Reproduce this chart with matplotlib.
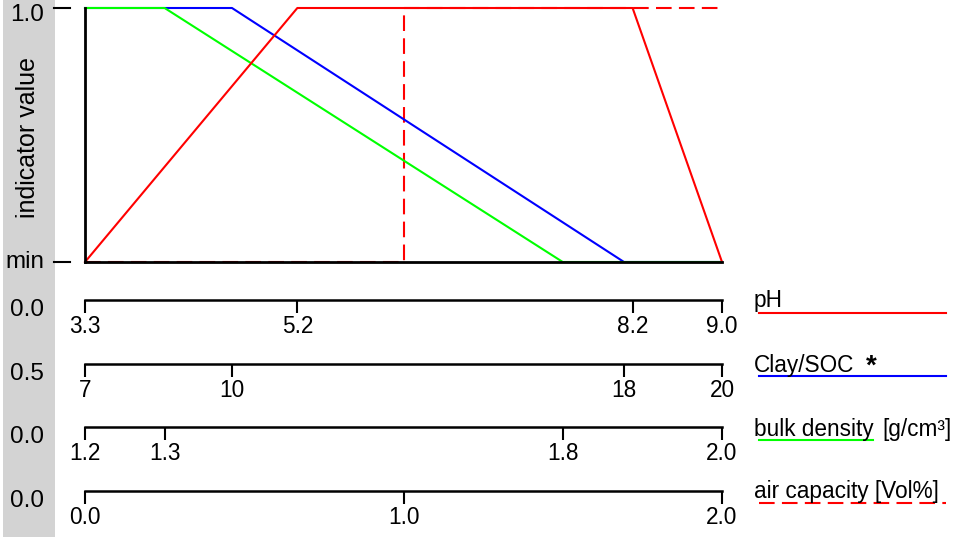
import matplotlib
matplotlib.use("Agg")
import matplotlib.pyplot as plt
from matplotlib.lines import Line2D
from matplotlib.patches import Rectangle
import matplotlib.transforms as mtransforms

plt.rcParams['font.family'] = ['Liberation Sans', 'DejaVu Sans']

# indicator curves (x in each variable's own units, y: 0 = min, 1 = 1.0)
ph_x = [3.3, 5.2, 8.2, 9.0]
ph_y = [0, 1, 1, 0]
clay_x = [7, 10, 18, 20]
clay_y = [1, 1, 0, 0]
bd_x = [1.2, 1.3, 1.8, 2.0]
bd_y = [1, 1, 0, 0]
air_x = [0.0, 1.0, 1.0, 2.0]
air_y = [0, 0, 1, 1]

# scale ranges and ticks
ph_lim = (3.3, 9.0)
clay_lim = (7, 20)
bd_lim = (1.2, 2.0)
air_lim = (0.0, 2.0)
ph_ticks = [3.3, 5.2, 8.2, 9.0]
ph_labels = ["3.3", "5.2", "8.2", "9.0"]
clay_ticks = [7, 10, 18, 20]
clay_labels = ["7", "10", "18", "20"]
bd_ticks = [1.2, 1.3, 1.8, 2.0]
bd_labels = ["1.2", "1.3", "1.8", "2.0"]
air_ticks = [0.0, 1.0, 2.0]
air_labels = ["0.0", "1.0", "2.0"]

names = ["pH", "Clay/SOC", "bulk density", "air capacity [Vol%]"]
weights = ["0.0", "0.5", "0.0", "0.0"]
colors = ["#ff0000", "#0000ff", "#00ff00", "#ff0000"]

W, H = 957, 543
def fx(x):
    return x / W
def fy(y):
    return 1 - y / H

fig = plt.figure(figsize=(W / 100, H / 100), dpi=100)
fig.patch.set_facecolor("white")

# grey strip on the left
fig.patches.append(Rectangle((fx(3), fy(537)), fx(55) - fx(3), fy(0) - fy(537),
                             transform=fig.transFigure, facecolor="#d3d3d3",
                             edgecolor="none", zorder=0))

FS = 16.3
SFS = 17.5
dash = (0, (7.5, 3.5))

# main panel: one axes per variable, sharing the same box
rect = [fx(85), fy(262), fx(722) - fx(85), fy(8) - fy(262)]
ax = fig.add_axes(rect)
ax_air = ax.twiny()
ax_clay = ax.twiny()
ax_bd = ax.twiny()
for a, lim in [(ax, ph_lim), (ax_air, air_lim), (ax_bd, bd_lim), (ax_clay, clay_lim)]:
    a.set_xlim(*lim)
    a.set_ylim(0, 1)
    a.set_xticks([])
    a.set_yticks([])
    for s in a.spines.values():
        s.set_visible(False)
ax.spines["left"].set_visible(True)
ax.spines["bottom"].set_visible(True)
ax.spines["left"].set_linewidth(2)
ax.spines["bottom"].set_linewidth(2)
ax.set_zorder(5)
ax.patch.set_visible(False)
ax_air.set_zorder(1)
ax_clay.set_zorder(2)
ax_bd.set_zorder(3)

ax_air.plot(air_x, air_y, color=colors[3], lw=1.5, linestyle=dash, clip_on=False)
ax_clay.plot(clay_x, clay_y, color=colors[1], lw=1.5, clip_on=False)
ax_bd.plot(bd_x, bd_y, color=colors[2], lw=1.5, clip_on=False)
ax.plot(ph_x, ph_y, color=colors[0], lw=1.5, clip_on=False)

# y ticks, detached from the axis line
tr = mtransforms.blended_transform_factory(ax.transAxes, ax.transData)
x0 = (54 - 85) / 637
x1 = (70 - 85) / 637
for yv in [0, 1]:
    ax.plot([x0, x1], [yv, yv], color="black", lw=1.5, transform=tr, clip_on=False)
fig.text(fx(44), fy(15), "1.0", ha="right", va="center", fontsize=SFS)
fig.text(fx(44), fy(268), "min", ha="right", va="baseline", fontsize=SFS)
fig.text(fx(28), fy(138), "indicator value", rotation=90, ha="center", va="center",
         fontsize=18)

# scale axes below the panel
scales = [(ph_lim, ph_ticks, ph_labels), (clay_lim, clay_ticks, clay_labels),
          (bd_lim, bd_ticks, bd_labels), (air_lim, air_ticks, air_labels)]
line_y = [300, 364, 427, 491]
for i, (lim, ticks, labels) in enumerate(scales):
    y = line_y[i]
    sa = fig.add_axes([fx(85), fy(y), fx(722) - fx(85), 1 / H])
    sa.patch.set_visible(False)
    for s in ["left", "right", "top"]:
        sa.spines[s].set_visible(False)
    sa.spines["bottom"].set_linewidth(1.8)
    sa.set_xlim(*lim)
    sa.set_yticks([])
    sa.set_xticks(ticks)
    sa.set_xticklabels(labels)
    sa.tick_params(axis="x", direction="out", length=9.5, width=1.5, pad=1,
                   labelsize=FS)
    fig.text(fx(44), fy(y + 10), weights[i], ha="right", va="center", fontsize=SFS)

# legend on the right
fig.text(fx(754), fy(307), names[0], fontsize=FS, va="baseline")
fig.lines.append(Line2D([fx(759), fx(946)], [fy(313), fy(313)], color=colors[0], lw=1.5,
                        transform=fig.transFigure))
fig.text(fx(754), fy(372), names[1], fontsize=FS, va="baseline")
fig.text(fx(866), fy(374), "*", fontsize=20, fontweight="bold", va="baseline")
fig.lines.append(Line2D([fx(759), fx(946)], [fy(376), fy(376)], color=colors[1], lw=1.5,
                        transform=fig.transFigure))
fig.text(fx(754), fy(436), names[2], fontsize=FS, va="baseline")
fig.text(fx(882), fy(436), "[g/cm\u00b3]", fontsize=FS, va="baseline")
fig.lines.append(Line2D([fx(759), fx(873)], [fy(440), fy(440)], color=colors[2], lw=1.5,
                        transform=fig.transFigure))
fig.text(fx(754), fy(498), names[3], fontsize=FS, va="baseline")
fig.lines.append(Line2D([fx(759), fx(946)], [fy(503), fy(503)], color=colors[3], lw=1.5,
                        linestyle=dash, transform=fig.transFigure))

fig.savefig("out.png", dpi=100)
